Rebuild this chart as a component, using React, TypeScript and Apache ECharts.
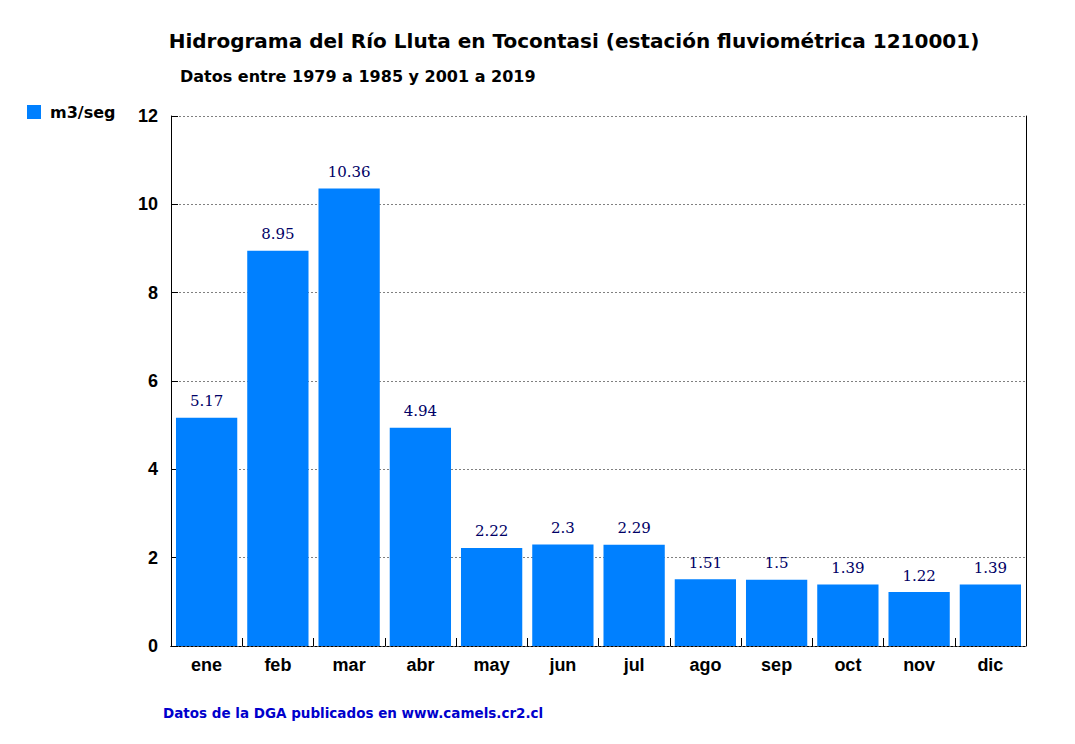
import React, { useEffect, useRef } from "react";
import * as echarts from "echarts";

const months = ["ene", "feb", "mar", "abr", "may", "jun", "jul", "ago", "sep", "oct", "nov", "dic"];
const flows = [5.17, 8.95, 10.36, 4.94, 2.22, 2.3, 2.29, 1.51, 1.5, 1.39, 1.22, 1.39];
const seriesName = "m3/seg";
const titleText = "Hidrograma del Río Lluta en Tocontasi (estación fluviométrica 1210001)";
const subtitleText = "Datos entre 1979 a 1985 y 2001 a 2019";
const footerText = "Datos de la DGA publicados en www.camels.cr2.cl";

export default function App() {
  const ref = useRef<HTMLDivElement>(null);
  useEffect(() => {
    if (!ref.current) return;
    const chart = echarts.init(ref.current, null, { renderer: "svg" });
    const sans = "'Liberation Sans', Arial, sans-serif";
    const wide = "'DejaVu Sans', Verdana, sans-serif";
    chart.setOption({
      animation: false,
      backgroundColor: "#ffffff",
      title: [
        {
          text: titleText,
          left: 574,
          top: 31,
          padding: 0,
          textAlign: "center",
          textStyle: { fontFamily: wide, fontWeight: "bold", fontSize: 20, color: "#000" },
        },
        {
          text: subtitleText,
          left: 180,
          top: 68,
          padding: 0,
          textStyle: { fontFamily: wide, fontWeight: "bold", fontSize: 16, color: "#000" },
        },
        {
          text: footerText,
          left: 163,
          top: 706,
          padding: 0,
          textStyle: { fontFamily: wide, fontWeight: "bold", fontSize: 13.5, color: "#0000cc" },
        },
      ],
      legend: {
        left: 27,
        top: 104,
        padding: 0,
        icon: "rect",
        itemWidth: 14,
        itemHeight: 14,
        itemGap: 10,
        textStyle: { fontFamily: wide, fontWeight: "bold", fontSize: 16, color: "#000", padding: [0, 0, 0, 4] },
        data: [seriesName],
      },
      grid: { left: 171, right: 49, top: 116, bottom: 98, containLabel: false },
      xAxis: [
        {
          type: "category",
          data: months,
          position: "bottom",
          axisLine: { show: true, lineStyle: { color: "#000", type: [2, 2], width: 1 } },
          axisTick: { show: true, inside: true, length: 8, lineStyle: { color: "#000" } },
          axisLabel: { fontFamily: sans, fontWeight: "bold", fontSize: 18, color: "#000", margin: 10 },
          splitLine: { show: false },
        },
        {
          type: "category",
          data: months,
          position: "top",
          axisLine: { show: true, lineStyle: { color: "#000", type: [2, 2], width: 1 } },
          axisTick: { show: false },
          axisLabel: { show: false },
          splitLine: { show: false },
        },
      ],
      yAxis: [
        {
          type: "value",
          min: 0,
          max: 12,
          interval: 2,
          position: "left",
          axisLine: { show: true, lineStyle: { color: "#000", width: 1 } },
          axisTick: { show: true, inside: true, length: 7, lineStyle: { color: "#000" } },
          axisLabel: { fontFamily: sans, fontWeight: "bold", fontSize: 18, color: "#000", margin: 13 },
          splitLine: { show: true, lineStyle: { color: "#808080", type: [2, 2], width: 1 } },
        },
        {
          type: "value",
          min: 0,
          max: 12,
          interval: 2,
          position: "right",
          axisLine: { show: true, lineStyle: { color: "#000", width: 1 } },
          axisTick: { show: false },
          axisLabel: { show: false },
          splitLine: { show: false },
        },
      ],
      series: [
        {
          name: seriesName,
          type: "bar",
          data: flows,
          xAxisIndex: 0,
          yAxisIndex: 0,
          barCategoryGap: "14%",
          itemStyle: { color: "#0080ff" },
          label: {
            show: true,
            position: "top",
            distance: 9,
            fontFamily: "'DejaVu Serif', 'Liberation Serif', serif",
            fontSize: 15,
            color: "#000066",
          },
        },
      ],
    });
    return () => chart.dispose();
  }, []);
  return <div ref={ref} style={{ position: "fixed", left: 0, top: 0, width: 1075, height: 744 }} />;
}
